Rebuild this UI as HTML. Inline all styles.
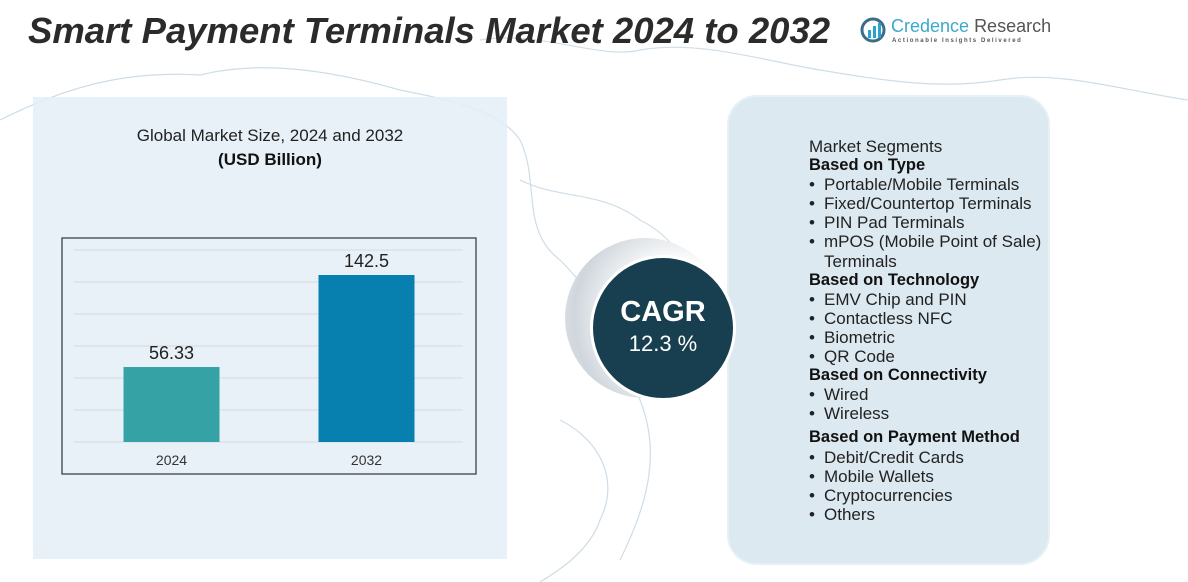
<!DOCTYPE html>
<html><head><meta charset="utf-8"><style>
body{margin:0;width:1188px;height:582px;overflow:hidden;background:#fff;font-family:"Liberation Sans",sans-serif;position:relative}
.abs{position:absolute}
.seg{position:absolute;left:809px;font-size:17px;color:#222;white-space:nowrap;line-height:19px}
.b{font-weight:bold;color:#111;font-size:16.5px}
.bul{position:absolute;left:-1px}
</style></head><body>
<svg class="abs" style="left:0;top:0" width="1188" height="582">
<g fill="none" stroke="#cfdde6" stroke-width="1.2">
<path d="M0 120 C60 90 120 70 200 75 C260 60 330 70 400 90 C450 100 500 110 520 140 C540 180 520 230 560 260 C600 300 620 340 640 400 C660 450 650 500 620 560"/>
<path d="M480 40 C540 30 600 60 640 50 C700 40 760 60 820 70 C880 80 940 90 1000 80 C1060 70 1120 90 1188 100"/>
<path d="M520 180 C560 200 600 190 640 220 C680 240 700 280 690 320"/>
<path d="M560 420 C600 440 620 480 600 520 C590 550 560 570 540 582"/>
</g></svg>
<div class="abs" style="left:28px;top:10px;font-size:36.5px;font-weight:bold;font-style:italic;color:#2b2b2b;white-space:nowrap">Smart Payment Terminals Market 2024 to 2032</div>
<div class="abs" style="left:860px;top:16px;width:180px;height:30px">
<svg width="28" height="28" style="position:absolute;left:0;top:0"><circle cx="13" cy="14" r="11" fill="none" stroke="#3b6c8a" stroke-width="3"/><rect x="8" y="14" width="3" height="8" fill="#2aa4c8"/><rect x="13" y="10" width="3" height="12" fill="#2aa4c8"/><rect x="18" y="7" width="3" height="15" fill="#2aa4c8"/></svg>
<div style="position:absolute;left:31px;top:0;font-size:18px;color:#3aa9cc;white-space:nowrap">Credence <span style="color:#555">Research</span></div>
<div style="position:absolute;left:32px;top:22px;font-size:6px;letter-spacing:1.6px;color:#555;white-space:nowrap;font-weight:bold">Actionable Insights Delivered</div>
</div>
<div class="abs" style="left:33px;top:97px;width:474px;height:462px;background:rgba(228,238,247,0.85)"></div>
<div class="abs" style="left:33px;top:126px;width:474px;text-align:center;font-size:17px;color:#222">Global Market Size, 2024 and 2032</div>
<div class="abs" style="left:33px;top:150px;width:474px;text-align:center;font-size:17px;font-weight:bold;color:#111">(USD Billion)</div>
<svg id="chart" class="abs" style="left:0;top:0" width="520" height="582"></svg>
<div class="abs" style="left:727px;top:95px;width:323px;height:470px;border-radius:30px;background:#dce9f0;border:2px solid #e6f0f5;box-sizing:border-box"></div>
<div class="abs" style="left:565px;top:238px;width:160px;height:160px;border-radius:50%;background:radial-gradient(circle at 70% 50%,#fff 40%,#cfd6dc 75%,#eef1f3 100%)"></div>
<div class="abs" style="left:590px;top:255px;width:146px;height:146px;border-radius:50%;background:#173f50;border:3px solid #fff;box-sizing:border-box;color:#fff;text-align:center">
<div style="margin-top:38px;font-size:29px;font-weight:bold">CAGR</div>
<div style="font-size:22px;margin-top:2px">12.3 %</div></div>
<div id="segs"></div>
<script>
const categories=["2024","2032"];
const values=[56.33,142.5];
const colors=["#35a3a5","#0780b0"];
const svg=document.getElementById('chart');
const NS="http://www.w3.org/2000/svg";
function mk(t,a){const e=document.createElementNS(NS,t);for(const k in a)e.setAttribute(k,a[k]);svg.appendChild(e);return e;}
const base=442,axisMin=-13.9,scale=1.0677;
function y(v){return base-(v-axisMin)*scale;}
const xs=[171.5,366.5],bw=96;
const box=mk('rect',{x:62,y:238,width:414,height:236,fill:'none',stroke:'#333','stroke-width':1.2});


for(let i=0;i<7;i++){const g=mk('line',{x1:74,x2:463,y1:base-i*32,y2:base-i*32,stroke:'#d6d9dc','stroke-width':1});

}
categories.forEach((c,i)=>{
const r=mk('rect',{x:xs[i]-bw/2,y:y(values[i]),width:bw,height:base-y(values[i]),fill:colors[i]});


const t=mk('text',{x:xs[i],y:y(values[i])-8,'text-anchor':'middle','font-size':18,fill:'#222','font-family':'Liberation Sans'});t.textContent=values[i];


const l=mk('text',{x:xs[i],y:465,'text-anchor':'middle','font-size':14,fill:'#333','font-family':'Liberation Sans'});l.textContent=c;


});
const lines=[["Market Segments",0,147],["Based on Type",1,166],["Portable/Mobile Terminals",2,185],["Fixed/Countertop Terminals",2,204],["PIN Pad Terminals",2,223],["mPOS (Mobile Point of Sale)",2,242],["Terminals",3,262],["Based on Technology",1,281],["EMV Chip and PIN",2,300],["Contactless NFC",2,319],["Biometric",2,338],["QR Code",2,357],["Based on Connectivity",1,376],["Wired",2,395],["Wireless",2,414],["Based on  Payment Method",1,438],["Debit/Credit Cards",2,458],["Mobile Wallets",2,477],["Cryptocurrencies",2,496],["Others",2,515]];
const segs=document.getElementById('segs');
lines.forEach(([t,k,yy])=>{const d=document.createElement('div');d.className='seg'+(k==1?' b':'');
d.style.top=(yy-10)+'px';
if(k==2||k==3){d.style.left='824px';d.textContent=t;
if(k==2){const b=document.createElement('span');b.className='bul';b.style.left='-15px';b.textContent='•';d.appendChild(b);}}
else d.textContent=t;


segs.appendChild(d);});
</script>
</body></html>
